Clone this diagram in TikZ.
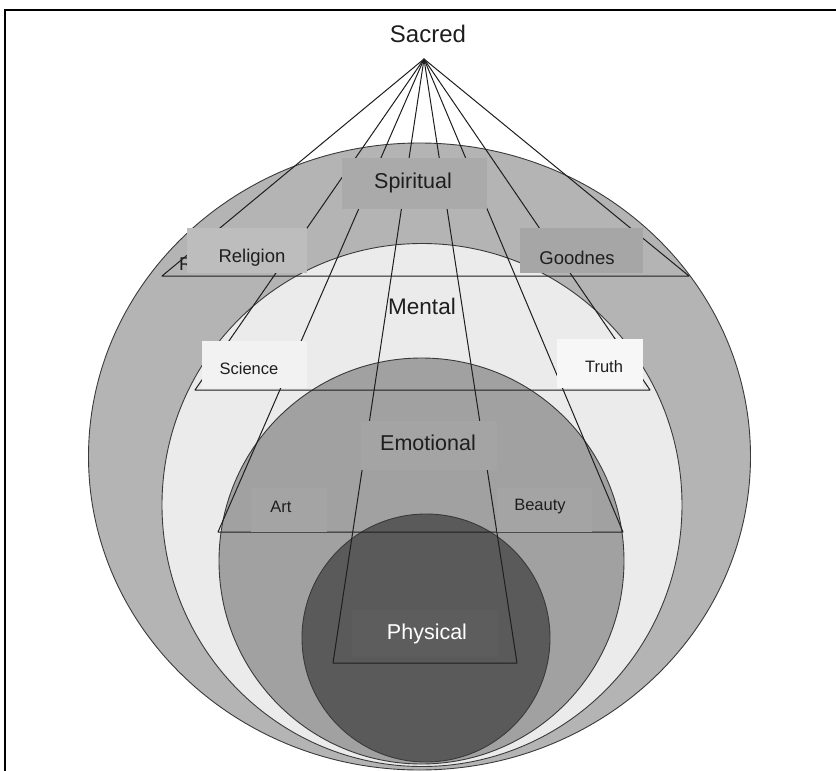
\documentclass[tikz,border=0pt]{standalone}
\usepackage{fontspec}
\setmainfont{Liberation Sans}
\usepackage{tikz}
\usetikzlibrary{positioning}
\definecolor{ink}{HTML}{1E1E1E}
\definecolor{edge}{HTML}{3A3A3A}
\definecolor{spiR}{HTML}{B4B4B4}
\definecolor{menR}{HTML}{EBEBEB}
\definecolor{emoR}{HTML}{A1A1A1}
\definecolor{phyR}{HTML}{5A5A5A}
\definecolor{spiB}{HTML}{AAAAAA}
\definecolor{relB}{HTML}{BDBDBD}
\definecolor{gooB}{HTML}{A6A6A6}
\definecolor{sciB}{HTML}{F2F2F2}
\definecolor{truB}{HTML}{F7F7F7}
\definecolor{emoB}{HTML}{A4A4A4}
\definecolor{phyB}{HTML}{5D5D5D}
\tikzset{
  frame/.style ={draw=black, line width=1.6pt},
  ring/.style  ={draw=edge, line width=.9pt},
  cone/.style  ={draw=ink, line width=1pt, line join=round},
  tag/.style   ={inner sep=0pt, outer sep=0pt},
  ttl/.style   ={font=\fontsize{24}{28}\selectfont, text=ink},
  lvl/.style   ={font=\fontsize{21.5}{25}\selectfont, text=ink},
  sub/.style   ={font=\fontsize{18.5}{22}\selectfont, text=ink},
  sml/.style   ={font=\fontsize{16.5}{19}\selectfont, text=ink},
}
\begin{document}
\begin{tikzpicture}[x=1pt,y=-1pt]
  \useasboundingbox (0,0) rectangle (836,771);
  % --- frame, cut off at right and bottom ---
  \draw[frame] (5,771) -- (5,10) -- (836,10);
  % --- nested rings, outside in ---
  \draw[ring,fill=spiR] (419.5,456.5) ellipse [x radius=331,y radius=313.5];
  \draw[ring,fill=menR] (422,505) ellipse [x radius=260,y radius=261.5];
  \draw[ring,fill=emoR] (421.5,561) ellipse [x radius=202.5,y radius=203];
  \draw[ring,fill=phyR] (426,638) circle [radius=124];
  % --- cones from the apex ---
  \coordinate (apex) at (424,59);
  \coordinate (spL) at (162,276); \coordinate (spR) at (689,276);
  \coordinate (meL) at (195,390); \coordinate (meR) at (650,390);
  \coordinate (emL) at (218,532); \coordinate (emR) at (623,532);
  \coordinate (phL) at (333,663); \coordinate (phR) at (517,663);
  \foreach \l/\r in {spL/spR,meL/meR,emL/emR,phL/phR}
     \draw[cone] (apex) -- (\l) -- (\r) -- cycle;
  % --- label boxes ---
  \node[sub,tag,anchor=base west] (relCut) at (179,270) {R};
  \node[tag,fill=spiB,minimum width=145,minimum height=51] (spiBox) at (414.5,183.5) {};
  \node[tag,fill=relB,minimum width=120,minimum height=45] (relBox) at (247,250.5) {};
  \node[tag,fill=gooB,minimum width=123,minimum height=45] (gooBox) at (581.5,250.5) {};
  \node[tag,fill=sciB,minimum width=105,minimum height=47] (sciBox) at (254.5,364.5) {};
  \node[tag,fill=truB,minimum width=86,minimum height=49] (truBox) at (600,363.5) {};
  \node[tag,fill=emoB,minimum width=136,minimum height=49] (emoBox) at (429,445.5) {};
  \node[tag,fill=emoB,minimum width=76,minimum height=44] (artBox) at (289,510) {};
  \node[tag,fill=emoB,minimum width=95,minimum height=44] (beaBox) at (544.5,510) {};
  \node[tag,fill=phyB,minimum width=146,minimum height=47] (phyBox) at (425,633.5) {};
  % --- texts ---
  \node[ttl] (sacT) at (428,34) {Sacred};
  \node[lvl] (spiT) at (413,183) {Spiritual};
  \node[sub] (relT) at (252,258) {Religion};
  \node[sub] (gooT) at (577,258) {Goodnes};
  \node[font=\fontsize{22.5}{26}\selectfont,text=ink] (menT) at (422,306) {Mental};
  \node[sml] (sciT) at (249,369) {Science};
  \node[sml] (truT) at (604,367) {Truth};
  \node[lvl] (emoT) at (428,443) {Emotional};
  \node[sml] (artT) at (281,507) {Art};
  \node[sml] (beaT) at (540,507) {Beauty};
  \node[lvl,text=white] (phyT) at (427,634) {Physical};
\end{tikzpicture}
\end{document}
